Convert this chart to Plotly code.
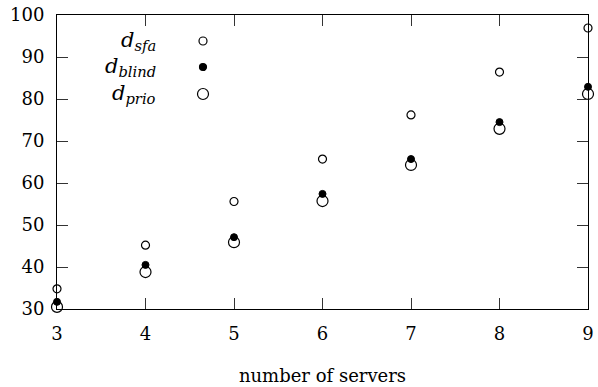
import plotly.graph_objects as go

servers = [3, 4, 5, 6, 7, 8, 9]
d_sfa = [34.8, 45.2, 55.6, 65.7, 76.2, 86.4, 96.9]
d_blind = [31.7, 40.5, 47.1, 57.4, 65.7, 74.5, 82.9]
d_prio = [30.5, 38.8, 45.9, 55.7, 64.3, 72.9, 81.2]

y_ticks = [30, 40, 50, 60, 70, 80, 90, 100]

FONT = "DejaVu Serif"
W, H = 598, 387
PX_X0, PX_W = 57, 531
PX_Y0, PX_H = 15, 294

fig = go.Figure()
fig.add_trace(go.Scatter(x=servers, y=d_prio, mode="markers", cliponaxis=False,
                         marker=dict(size=11, color="white", line=dict(color="black", width=1.2)),
                         name="d_prio"))
fig.add_trace(go.Scatter(x=servers, y=d_blind, mode="markers", cliponaxis=False,
                         marker=dict(size=7, color="black", line=dict(color="black", width=1)),
                         name="d_blind"))
fig.add_trace(go.Scatter(x=servers, y=d_sfa, mode="markers", cliponaxis=False,
                         marker=dict(size=8, color="white", line=dict(color="black", width=1.2)),
                         name="d_sfa"))

# legend (text left, marker right), positions in pixel-derived domain coords
legend_items = [
    ("<i>d</i><sub><i>sfa</i></sub>", 41, 8, "white"),
    ("<i>d</i><sub><i>blind</i></sub>", 67, 7, "black"),
    ("<i>d</i><sub><i>prio</i></sub>", 94, 11, "white"),
]
for text, ypx, size, fill in legend_items:
    fig.add_annotation(x=(158 - PX_X0) / PX_W, y=1 - (ypx - PX_Y0) / PX_H,
                       xref="x domain", yref="y domain",
                       text=text, showarrow=False, xanchor="right", yanchor="middle",
                       font=dict(family=FONT, size=21, color="black"))
    cx = (203 - PX_X0) / PX_W
    cy = 1 - (ypx - PX_Y0) / PX_H
    rx = size / 2 / PX_W
    ry = size / 2 / PX_H
    fig.add_shape(type="circle", xref="x domain", yref="y domain",
                  x0=cx - rx, x1=cx + rx, y0=cy - ry, y1=cy + ry,
                  fillcolor=fill, line=dict(color="black", width=1.2))

fig.update_layout(
    width=W, height=H,
    margin=dict(l=PX_X0, r=W - PX_X0 - PX_W, t=PX_Y0, b=H - PX_Y0 - PX_H),
    paper_bgcolor="white", plot_bgcolor="white",
    showlegend=False,
    font=dict(family=FONT, size=18, color="black"),
    xaxis=dict(range=[3, 9], tickvals=servers, ticks="inside", ticklen=11,
               tickcolor="#333", showline=True, linecolor="black", linewidth=1,
               mirror="ticks", showgrid=False, zeroline=False,
               ticklabelstandoff=8, automargin=False,
               title=dict(text="number of servers", standoff=26,
                          font=dict(family=FONT, size=18))),
    yaxis=dict(range=[30, 100], tickvals=y_ticks, ticks="inside", ticklen=11,
               tickcolor="#333", showline=True, linecolor="black", linewidth=1,
               mirror="ticks", showgrid=False, zeroline=False,
               ticklabelstandoff=8, automargin=False),
)

fig.write_html("out.html", config={"displayModeBar": False},
               post_script="document.body.style.margin='0';document.body.style.overflow='hidden';")
